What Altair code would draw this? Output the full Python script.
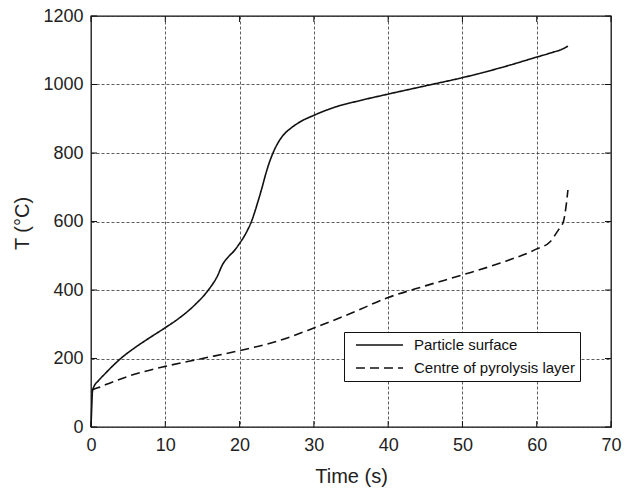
import altair as alt
import pandas as pd

FONT = "Liberation Sans, Arial, Helvetica, sans-serif"

# Particle surface
t_surface = [0, 0.1, 0.2, 0.4, 1, 2, 3, 4, 6, 8, 10, 12, 14, 15.8, 17, 17.7, 18.5,
             19.3, 20, 20.6, 21.1, 21.6, 22.0, 22.5, 23.0, 23.5, 24.0, 24.5, 25.0, 25.5,
             26.0, 27.0, 28.0, 30, 33, 36, 40, 45, 50, 55, 60, 62, 63.3, 64.2]
T_surface = [0, 60, 105, 118, 135, 158, 180, 200, 233, 262, 290, 320, 357, 400, 440,
             474, 497, 515, 536, 556, 576, 600, 625, 660, 697, 737, 772, 800, 823, 841,
             855, 874, 889, 910, 935, 952, 972, 996, 1020, 1048, 1080, 1093, 1102, 1112]

# Centre of pyrolysis layer
t_centre = [0.1, 1, 2, 5, 10, 15, 20, 25, 30, 35, 40, 45, 50, 55, 60, 61.8, 62.9,
            63.6, 64.0, 64.2]
T_centre = [108, 115, 124, 148, 177, 200, 223, 250, 289, 332, 378, 412, 444, 478, 520,
            541, 575, 600, 653, 692]

series_names = ["Particle surface", "Centre of pyrolysis layer"]
x_ticks = [0, 10, 20, 30, 40, 50, 60, 70]
y_ticks = [0, 200, 400, 600, 800, 1000, 1200]

W, H = 520, 411

df = pd.concat([
    pd.DataFrame({"t": t_surface, "T": T_surface, "series": series_names[0], "order": range(len(t_surface))}),
    pd.DataFrame({"t": t_centre, "T": T_centre, "series": series_names[1], "order": range(len(t_centre))}),
])

xscale = alt.Scale(domain=[0, 70], nice=False, zero=False)
yscale = alt.Scale(domain=[0, 1200], nice=False, zero=False)

lines = alt.Chart(df).mark_line(interpolate="monotone", strokeWidth=1.6, color="#111").encode(
    x=alt.X("t:Q", scale=xscale,
            axis=alt.Axis(title="Time (s)", values=x_ticks, format="d", titleY=55, titleX=W / 2,
                          titleBaseline="alphabetic", titleAlign="center", labelPadding=9)),
    y=alt.Y("T:Q", scale=yscale,
            axis=alt.Axis(title="T (°C)", values=y_ticks, format="d", titleX=-63, titleY=207,
                          titleAngle=270, titleAlign="center", titleBaseline="alphabetic",
                          labelPadding=8)),
    strokeDash=alt.StrokeDash("series:N",
                              scale=alt.Scale(domain=series_names, range=[[1, 0], [9, 5]]),
                              legend=alt.Legend(title=None, orient="none", legendX=253, legendY=316,
                                                symbolType="stroke", symbolSize=2209,
                                                symbolStrokeWidth=1.5, symbolStrokeColor="#111",
                                                symbolOffset=6, labelOffset=10, clipHeight=16,
                                                rowPadding=7, padding=5, labelLimit=0,
                                                labelFont=FONT, labelFontSize=15, labelColor="#111",
                                                strokeColor="#111", fillColor="white")),
    detail="series:N",
    order="order:Q",
)

xt = pd.DataFrame({"t": x_ticks})
yt = pd.DataFrame({"T": y_ticks})
tick_len = 6
ticks_bottom = alt.Chart(xt).mark_rule(color="#111", strokeWidth=1).encode(
    x=alt.X("t:Q", scale=xscale), y=alt.value(H), y2=alt.value(H - tick_len))
ticks_top = alt.Chart(xt).mark_rule(color="#111", strokeWidth=1).encode(
    x=alt.X("t:Q", scale=xscale), y=alt.value(0), y2=alt.value(tick_len))
ticks_left = alt.Chart(yt).mark_rule(color="#111", strokeWidth=1).encode(
    y=alt.Y("T:Q", scale=yscale), x=alt.value(0), x2=alt.value(tick_len))
ticks_right = alt.Chart(yt).mark_rule(color="#111", strokeWidth=1).encode(
    y=alt.Y("T:Q", scale=yscale), x=alt.value(W), x2=alt.value(W - tick_len))

chart = alt.layer(lines, ticks_bottom, ticks_top, ticks_left, ticks_right).properties(
    width=W, height=H,
    autosize=alt.AutoSizeParams(type="none"),
    padding={"left": 91, "top": 16, "right": 24, "bottom": 61},
    background="white",
).configure_view(
    stroke="#111", strokeWidth=1.3
).configure_axis(
    grid=True, gridDash=[3, 2], gridColor="#333", gridWidth=0.8, gridOpacity=1,
    ticks=False, domain=False, labelFlush=False, labelOverlap=False,
    labelFont=FONT, labelFontSize=18, labelColor="#222",
    titleFont=FONT, titleFontSize=20, titleFontWeight="normal", titleColor="#222",
)

chart.save("out.html", embed_options={"renderer": "svg", "actions": False})
